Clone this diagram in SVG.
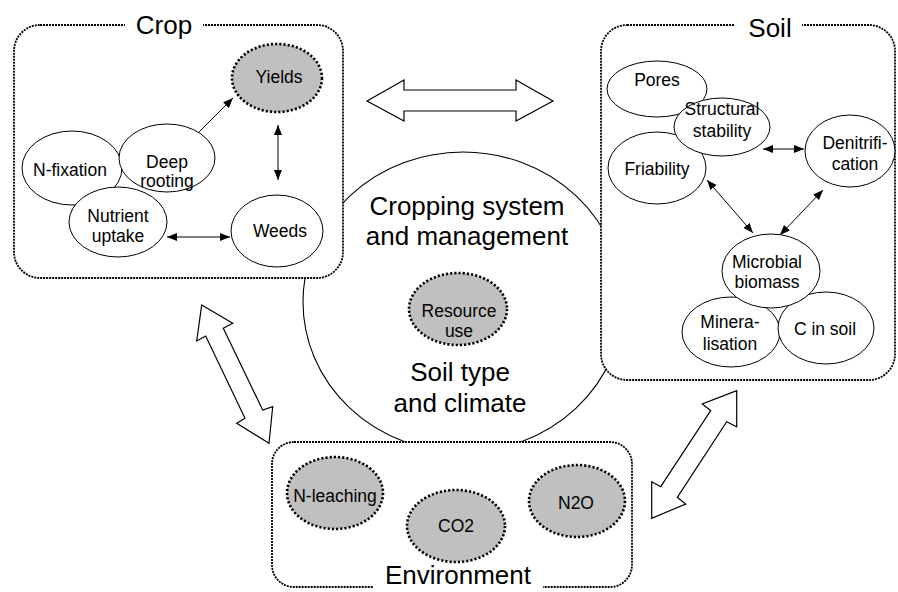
<svg xmlns="http://www.w3.org/2000/svg" width="898" height="592" viewBox="0 0 898 592">
<style>
text{font-family:"Liberation Sans",Arial,sans-serif;fill:#000;text-anchor:middle}
.n{font-size:17.5px}
.big{font-size:26px}
.box{fill:#fff;stroke:#000;stroke-width:1.8;stroke-dasharray:2 1}
.w{fill:#fff;stroke:#000;stroke-width:1}
.g{fill:#c0c0c0;stroke:#000;stroke-width:2.6;stroke-dasharray:2.2 2}
.c{fill:none;stroke:#000;stroke-width:1}
.blk{fill:#fff;stroke:#000;stroke-width:1.2;stroke-linejoin:miter}
.gap{fill:#fff;stroke:none}
</style>
<defs>
<marker id="ah" viewBox="0 0 10 10" refX="10" refY="5" markerWidth="10" markerHeight="10" markerUnits="userSpaceOnUse" orient="auto-start-reverse">
<path d="M0,1 L10,5 L0,9 z" fill="#000"/>
</marker>
</defs>

<g id="center">
<ellipse cx="463" cy="302" rx="160" ry="150" fill="#fff" stroke="#000" stroke-width="1.1"/>
</g>

<g id="crop">
<rect class="box" x="14" y="25" width="329" height="253" rx="26" ry="26"/>
<rect class="gap" x="125" y="18" width="78" height="14"/>
<text class="big" x="164" y="34">Crop</text>
</g>

<g id="soil">
<rect class="box" x="601" y="25" width="294" height="355" rx="26" ry="26"/>
<rect class="gap" x="735" y="18" width="67" height="14"/>
<text class="big" x="770" y="37">Soil</text>
</g>

<g id="environment">
<rect class="box" x="272" y="442" width="360" height="145" rx="22" ry="22"/>
<rect class="gap" x="373" y="580" width="170" height="12"/>
<text class="big" x="458" y="584">Environment</text>
</g>

<g id="center-text">
<text class="big" x="467" y="215">Cropping system</text>
<text class="big" x="467" y="245">and management</text>
<text class="big" x="460" y="381">Soil type</text>
<text class="big" x="460" y="412">and climate</text>
</g>

<g id="resource-use">
<ellipse class="g" cx="458" cy="309" rx="49" ry="36"/>
<text class="n" x="459" y="317">Resource</text>
<text class="n" x="459" y="337">use</text>
</g>

<g id="yields">
<ellipse class="g" cx="277" cy="78" rx="45" ry="34"/>
<text class="n" x="279" y="83">Yields</text>
</g>
<g id="n-fixation">
<ellipse class="w" cx="72" cy="168" rx="50" ry="37"/>
<text class="n" x="70" y="176">N-fixation</text>
</g>
<g id="deep-rooting">
<ellipse class="w" cx="167" cy="158" rx="48" ry="34"/>
<text class="n" x="167" y="168">Deep</text>
<text class="n" x="167" y="187">rooting</text>
</g>
<g id="nutrient-uptake">
<ellipse class="w" cx="118" cy="222" rx="49" ry="35"/>
<text class="n" x="118" y="222">Nutrient</text>
<text class="n" x="118" y="242">uptake</text>
</g>
<g id="weeds">
<ellipse class="w" cx="277" cy="231" rx="46" ry="36"/>
<text class="n" x="280" y="237">Weeds</text>
</g>

<g id="pores">
<ellipse class="w" cx="657" cy="89" rx="50" ry="28"/>
<text class="n" x="657" y="86">Pores</text>
</g>
<g id="friability">
<ellipse class="w" cx="657" cy="168" rx="49" ry="36"/>
<text class="n" x="657" y="175">Friability</text>
</g>
<g id="structural-stability">
<ellipse class="w" cx="722" cy="127" rx="48" ry="29"/>
<text class="n" x="722" y="115">Structural</text>
<text class="n" x="722" y="137">stability</text>
</g>
<g id="denitrification">
<ellipse class="w" cx="850" cy="151" rx="45" ry="36"/>
<text class="n" x="855" y="149">Denitrifi-</text>
<text class="n" x="855" y="170">cation</text>
</g>
<g id="mineralisation">
<ellipse class="w" cx="731" cy="332" rx="49" ry="35"/>
<text class="n" x="730" y="328">Minera-</text>
<text class="n" x="730" y="350">lisation</text>
</g>
<g id="c-in-soil">
<ellipse class="w" cx="826" cy="328" rx="48" ry="36"/>
<text class="n" x="825" y="335">C in soil</text>
</g>
<g id="microbial-biomass">
<ellipse class="w" cx="771" cy="271" rx="49" ry="37"/>
<text class="n" x="767" y="268">Microbial</text>
<text class="n" x="767" y="288">biomass</text>
</g>

<g id="n-leaching">
<ellipse class="g" cx="335" cy="493" rx="48" ry="36"/>
<text class="n" x="335" y="502">N-leaching</text>
</g>
<g id="co2">
<ellipse class="g" cx="456" cy="526" rx="49" ry="36"/>
<text class="n" x="456" y="532">CO2</text>
</g>
<g id="n2o">
<ellipse class="g" cx="577" cy="501" rx="48" ry="36"/>
<text class="n" x="576" y="509">N2O</text>
</g>

<g id="connectors">
<line class="c" x1="198" y1="133" x2="233" y2="98" marker-end="url(#ah)"/>
<line class="c" x1="278" y1="125" x2="278" y2="180" marker-start="url(#ah)" marker-end="url(#ah)"/>
<line class="c" x1="167" y1="237" x2="230" y2="237" marker-start="url(#ah)" marker-end="url(#ah)"/>
<line class="c" x1="763" y1="149" x2="804" y2="149" marker-start="url(#ah)" marker-end="url(#ah)"/>
<line class="c" x1="707" y1="180" x2="753" y2="233" marker-start="url(#ah)" marker-end="url(#ah)"/>
<line class="c" x1="823" y1="190" x2="780" y2="235" marker-start="url(#ah)" marker-end="url(#ah)"/>
<polygon class="blk" points="367,101 404,80 404,90 516,90 516,80 553,101 516,121 516,111 404,111 404,121"/>
<polygon class="blk" points="201.7,305 232.7,323.3 223.3,328.3 262.7,410 272.7,406.7 269,443.3 236.7,423.3 245,418.3 205.7,336 196.7,341"/>
<polygon class="blk" points="736.7,390.7 736.7,426.7 726.7,421.7 677.3,497.3 685.7,504 651.7,518.3 651.7,481.7 660.7,486.7 710.7,410.7 702.3,404"/>
</g>
</svg>
